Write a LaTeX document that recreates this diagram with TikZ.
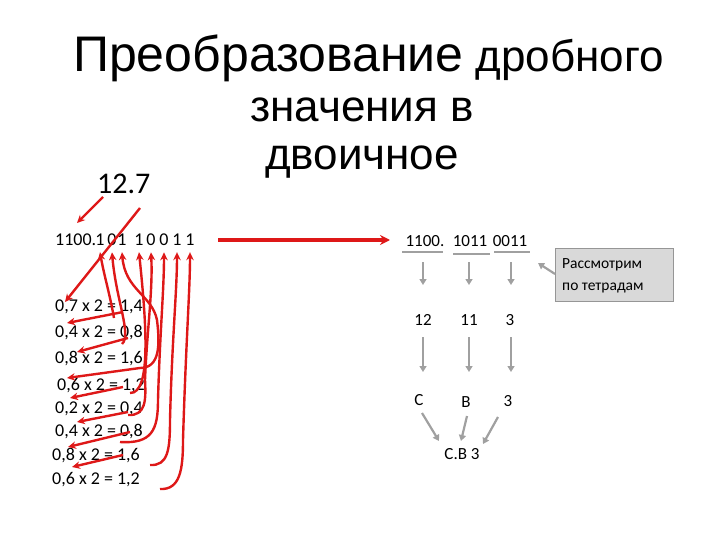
\documentclass[tikz,border=0pt]{standalone}
\usepackage{fontspec}
\setmainfont{Carlito}
\newfontfamily\titlefont{Liberation Sans}
\usetikzlibrary{arrows.meta,calc}
\definecolor{myred}{RGB}{222,24,24}
\definecolor{mygray}{RGB}{160,160,160}
\definecolor{boxfill}{RGB}{217,217,217}
\definecolor{boxline}{RGB}{150,150,150}
\tikzset{
  redarrow/.style={draw=myred,line width=2.4pt,-{Stealth[length=8pt,width=7.5pt]}},
  bigred/.style={draw=myred,line width=3.5pt,-{Stealth[length=10pt,width=10pt]}},
  grayarrow/.style={draw=mygray,line width=2.2pt,-{Triangle[length=6pt,width=7pt]}},
  grayline/.style={draw=mygray,line width=2.2pt},
  ttl/.style={font=\titlefont\fontsize{44}{50}\selectfont,anchor=base,inner sep=0pt},
  rowtxt/.style={font=\fontsize{18}{20}\selectfont,anchor=base west,inner sep=0pt},
  dig/.style={font=\fontsize{18}{20}\selectfont,anchor=base,inner sep=0pt},
  rdig/.style={font=\fontsize{17}{19}\selectfont,anchor=base,inner sep=0pt},
}
\begin{document}
\begin{tikzpicture}[x=1pt,y=-1pt]
\useasboundingbox (0,0) rectangle (720,540);
% title
\node[ttl,anchor=base west] (t1) at (73,72) {{\fontsize{50}{56}\selectfont Преобразование} дробного};
\node[ttl] (t2) at (362,122) {значения в};
\node[ttl] (t3) at (362,170) {двоичное};
% 12.7
\node[font=\fontsize{30}{32}\selectfont,anchor=base west,inner sep=0pt] (num) at (97,194) {12.7};
% binary number left
\node[dig,anchor=base west] (ip) at (55,245) {1100.};
\node[dig] (d1) at (100,245) {1};
\node[dig] (d2) at (112,245) {0};
\node[dig] (d3) at (122,245) {1};
\node[dig] (d4) at (139,245) {1};
\node[dig] (d5) at (151,245) {0};
\node[dig] (d6) at (164,245) {0};
\node[dig] (d7) at (177,245) {1};
\node[dig] (d8) at (190,245) {1};
% rows
\node[rowtxt] (r1) at (55,311) {0,7 x 2 = 1,4};
\node[rowtxt] (r2) at (55,337) {0,4 x 2 = 0,8};
\node[rowtxt] (r3) at (55,363) {0,8 x 2 = 1,6};
\node[rowtxt] (r4) at (57,390) {0,6 x 2 = 1,2};
\node[rowtxt] (r5) at (55,413) {0,2 x 2 = 0,4};
\node[rowtxt] (r6) at (55,436) {0,4 x 2 = 0,8};
\node[rowtxt] (r7) at (52,460) {0,8 x 2 = 1,6};
\node[rowtxt] (r8) at (52,484) {0,6 x 2 = 1,2};
% arrows from 12.7
\coordinate (s12) at (103,197);
\coordinate (e12) at (77,223);
\draw[redarrow] (s12) -- (e12);
\coordinate (s7) at (140,208);
\coordinate (e7) at (65,302);
\draw[redarrow] (s7) -- (e7);
% left arrows row to row
\coordinate (a1) at (123,312); \coordinate (b1) at (67,323);
\coordinate (a2) at (128,338); \coordinate (b2) at (77,352);
\coordinate (a3) at (140,368); \coordinate (b3) at (67,378);
\coordinate (a4) at (123,387); \coordinate (b4) at (70,398);
\coordinate (a5) at (128,412); \coordinate (b5) at (77,422);
\coordinate (a6) at (130,432); \coordinate (b6) at (68,447);
\coordinate (a7) at (123,455); \coordinate (b7) at (72,467);
\foreach \i in {1,...,7}{\draw[redarrow] (a\i) -- (b\i);}
% curves up to digits
\coordinate (c1) at (114,318);
\coordinate (c2) at (122,344);
\coordinate (c3) at (140,368);
\coordinate (c4) at (130,393);
\coordinate (c5) at (128,415);
\coordinate (c6) at (120,442);
\coordinate (c7) at (150,465);
\coordinate (c8) at (160,489);
\draw[redarrow] (c1) .. controls (110,295) and (104,275) .. ([yshift=-7pt]d1.south);
\draw[redarrow] (c2) .. controls (132,335) and (116,300) .. ([yshift=-7pt]d2.south);
\draw[redarrow] (c3) .. controls (160,368) and (160,345) .. (157,320) .. controls (152,295) and (125,290) .. ([yshift=-7pt]d3.south);
\draw[redarrow] (c4) .. controls (152,394) and (146,320) .. ([yshift=-7pt]d4.south);
\draw[redarrow] (c5) .. controls (146,416) and (146,400) .. (145,380) .. controls (147,330) and (153,290) .. ([yshift=-7pt]d5.south);
\draw[redarrow] (c6) .. controls (152,444) and (158,430) .. (158,400) .. controls (160,330) and (164,290) .. ([yshift=-7pt]d6.south);
\draw[redarrow] (c7) .. controls (168,466) and (170,450) .. (170,420) .. controls (172,340) and (177,290) .. ([yshift=-7pt]d7.south);
\draw[redarrow] (c8) .. controls (180,490) and (183,470) .. (183,440) .. controls (186,340) and (190,290) .. ([yshift=-7pt]d8.south);
% big arrow
\coordinate (ba) at (218,240);
\coordinate (bb) at (390,240);
\draw[bigred] (ba) -- (bb);
% right side
\node[rdig] (g1) at (425,247) {1100.};
\node[rdig] (g2) at (470,247) {1011};
\node[rdig] (g3) at (510,247) {0011};
\draw[grayline] (402,252) -- (443,252);
\draw[grayline] (453,254) -- (490,254);
\draw[grayline] (494,252) -- (530,252);
\node[rdig] (n1) at (423,325) {12};
\node[rdig] (n2) at (469,325) {11};
\node[rdig] (n3) at (510,325) {3};
\draw[grayarrow] (423,262) -- (423,285);
\draw[grayarrow] (469,262) -- (469,285);
\draw[grayarrow] (511,262) -- (511,285);
\node[rdig] (h1) at (419,405) {С};
\node[rdig] (h2) at (466,407) {В};
\node[rdig] (h3) at (508,406) {3};
\draw[grayarrow] (423,337) -- (423,372);
\draw[grayarrow] (469,337) -- (469,372);
\draw[grayarrow] (511,337) -- (511,372);
\node[rdig] (res) at (462,459) {С.В 3};
\draw[grayarrow] (422,413) -- (439,441);
\draw[grayarrow] (467,416) -- (461,441);
\draw[grayarrow] (498,417) -- (483,444);
% callout
\node[draw=boxline,fill=boxfill,line width=0.8pt,minimum width=118pt,minimum height=53pt,anchor=north west,inner sep=0pt] (box) at (555,248) {};
\node[font=\fontsize{15.5}{22}\selectfont,anchor=base west,inner sep=0pt] (bt1) at (562,268) {Рассмотрим};
\node[font=\fontsize{15.5}{22}\selectfont,anchor=base west,inner sep=0pt] (bt2) at (562,290) {по тетрадам};
\draw[grayarrow] (box.west |- 0,274) -- (538,263);
\end{tikzpicture}
\end{document}
